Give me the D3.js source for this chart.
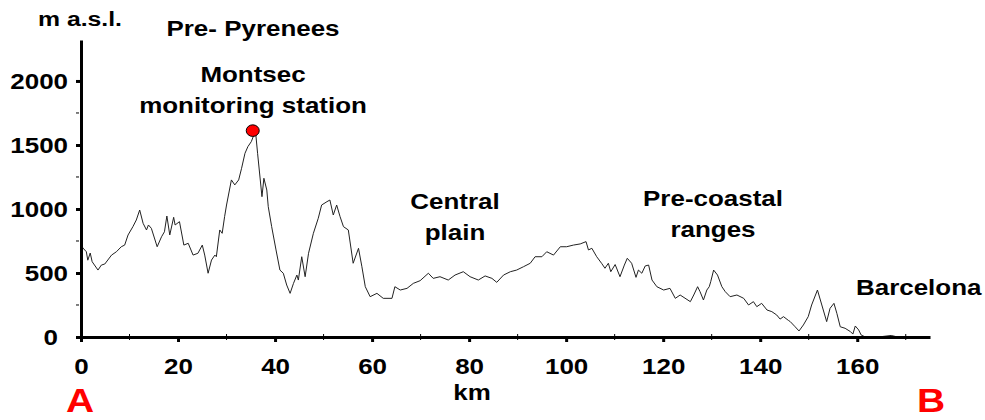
<!DOCTYPE html>
<html><head><meta charset="utf-8">
<script src="https://cdn.jsdelivr.net/npm/d3@7"></script>
<style>
body{margin:0;background:#fff;}
text{font-family:"Liberation Sans",Arial,sans-serif;font-weight:bold;fill:#000;}
</style></head>
<body><svg id="c" width="985" height="420"></svg>
<script>
// distance along transect (km)
const km = [0,0.4,1.1,1.4,1.9,2.3,3.5,4.2,4.9,6.3,7.3,8.3,9.0,9.7,10.7,11.4,12.1,12.8,13.5,13.9,14.5,15.7,16.6,17.2,17.7,18.3,19.1,19.4,20.3,21.2,22.1,23.1,24.1,25.0,25.5,26.2,26.9,27.6,27.9,28.6,29.1,29.6,30.0,31.0,31.7,32.5,33.1,33.8,34.4,35.1,35.6,36.0,36.4,37.3,37.7,38.3,38.6,39.3,40.2,41.0,41.7,42.4,43.1,43.8,44.5,44.8,45.5,46.2,46.9,47.9,48.9,49.6,50.7,51.3,52.0,52.7,53.4,54.1,55.1,56.1,57.2,57.9,58.6,59.6,61.0,62.3,64.1,64.7,65.8,67.2,68.5,69.9,71.6,72.6,74.0,75.7,77.1,78.8,80.2,81.9,83.3,84.7,85.7,87.1,88.5,89.8,91.2,92.6,93.6,95.0,96.0,97.4,98.8,100.1,101.5,102.9,104.1,104.6,105.3,106.3,107.3,108.0,108.7,109.2,110.1,111.1,112.0,112.6,113.5,114.4,114.9,115.6,116.3,117.0,117.7,118.7,120.1,121.4,122.5,123.5,125.6,126.3,127.1,127.6,128.3,129.0,129.5,129.8,130.4,131.2,132.1,132.8,133.8,135.2,136.6,137.6,138.6,139.3,140.3,141.4,142.4,143.4,144.1,144.8,145.8,146.2,147.2,148.0,148.9,149.9,150.6,151.8,152.7,153.7,154.4,155.2,155.8,156.5,157.5,158.6,159.1,159.6,160.3,160.8,161.5,165,167,168,172];
// elevation (m a.s.l.)
const elev = [720,695,666,600,656,588,523,562,570,640,666,705,718,797,862,914,992,888,836,875,849,705,783,822,945,797,935,875,901,718,732,640,654,718,640,498,601,640,627,836,810,940,1031,1227,1188,1227,1318,1435,1487,1526,1575,1595,1435,1096,1240,1148,1018,862,680,523,498,406,341,419,484,445,627,471,654,810,927,1031,1057,1070,953,1031,940,862,836,576,693,549,393,315,341,302,302,393,367,380,419,440,498,458,471,445,484,510,471,445,477,458,427,484,510,523,549,576,627,627,666,640,705,705,718,727,745,680,693,627,576,537,576,510,566,471,562,615,576,466,523,498,555,562,445,393,367,380,302,328,276,328,393,354,289,367,393,432,523,484,393,354,315,328,302,250,276,237,263,211,198,172,140,159,130,120,80,47,94,159,250,367,250,120,224,263,185,80,68,42,23,86,55,16,3,3,12,3,3];
const xTicks = [0,20,40,60,80,100,120,140,160];
const yTicks = [0,500,1000,1500,2000];
const yMinor = [250,750,1250,1750];
const xMinor = [10,30,50,70,90,110,130,150,170];
const station = {km:35.4, elev:1612};
const regionLabels = [
  {lines:["Pre- Pyrenees"], x:253, y:36, anchor:"middle"},
  {lines:["Montsec","monitoring station"], x:253, y:82, anchor:"middle"},
  {lines:["Central","plain"], x:455, y:209, anchor:"middle"},
  {lines:["Pre-coastal","ranges"], x:713, y:206, anchor:"middle"},
  {lines:["Barcelona"], x:856, y:295, anchor:"start"}
];

const SX = 1.18;
const svg = d3.select("#c");
const x = d3.scaleLinear().domain([0,175]).range([81,930]);
const y = d3.scaleLinear().domain([0,2320]).range([337,40]);

function label(txt, px, py, anchor, size, color){
  return svg.append("text")
    .attr("transform",`translate(${px},${py}) scale(${SX},1)`)
    .attr("text-anchor",anchor).style("font-size",size+"px")
    .style("fill",color||"#000").text(txt);
}

// profile line
const data = km.map((k,i)=>({k, e:elev[i]}));
svg.append("path").datum(data)
  .attr("fill","none").attr("stroke","#222").attr("stroke-width",1)
  .attr("stroke-linejoin","round")
  .attr("d", d3.line().x(d=>x(d.k)).y(d=>y(d.e)));

// y axis
const gy = svg.append("g").attr("transform","translate(81,0)")
  .call(d3.axisLeft(y).tickValues(yTicks).tickSize(5).tickSizeOuter(0).tickPadding(6).tickFormat(d3.format("d")));
gy.select(".domain").attr("stroke","#000").attr("stroke-width",3);
gy.selectAll(".tick line").attr("stroke","#000").attr("stroke-width",3);
gy.selectAll(".tick text").style("font-size","22px").style("font-family",null)
  .attr("transform",`scale(${SX},1)`)
  .attr("x", d=> d===0 ? -19.5 : -11);
svg.append("g").selectAll("line").data(yMinor).join("line")
  .attr("x1",76).attr("x2",79).attr("y1",d=>y(d)).attr("y2",d=>y(d))
  .attr("stroke","#000").attr("stroke-width",1);

// x axis
const gx = svg.append("g").attr("transform","translate(0,337)")
  .call(d3.axisBottom(x).tickValues(xTicks).tickSize(5).tickSizeOuter(0).tickPadding(16));
gx.select(".domain").attr("stroke","#000").attr("stroke-width",3);
gx.selectAll(".tick line").attr("stroke","#000").attr("stroke-width",3);
gx.selectAll(".tick text").style("font-size","22px").style("font-family",null)
  .attr("transform",`scale(${SX},1)`);
svg.append("g").selectAll("line").data(xMinor).join("line")
  .attr("x1",d=>x(d)).attr("x2",d=>x(d)).attr("y1",334).attr("y2",340)
  .attr("stroke","#000").attr("stroke-width",1);

// station marker
svg.append("ellipse").attr("cx",x(station.km)).attr("cy",y(station.elev))
  .attr("rx",6.5).attr("ry",5.8).attr("fill","#f00").attr("stroke","#000").attr("stroke-width",1);

// titles / labels
label("m a.s.l.", 80, 26, "middle", 21);
label("km", 472, 400, "middle", 22);
label("A", 80, 412, "middle", 33, "#f00");
label("B", 931, 412, "middle", 33, "#f00");
regionLabels.forEach(r=>{
  r.lines.forEach((t,i)=> label(t, r.x, r.y + i*31, r.anchor, 22));
});
</script></body></html>
